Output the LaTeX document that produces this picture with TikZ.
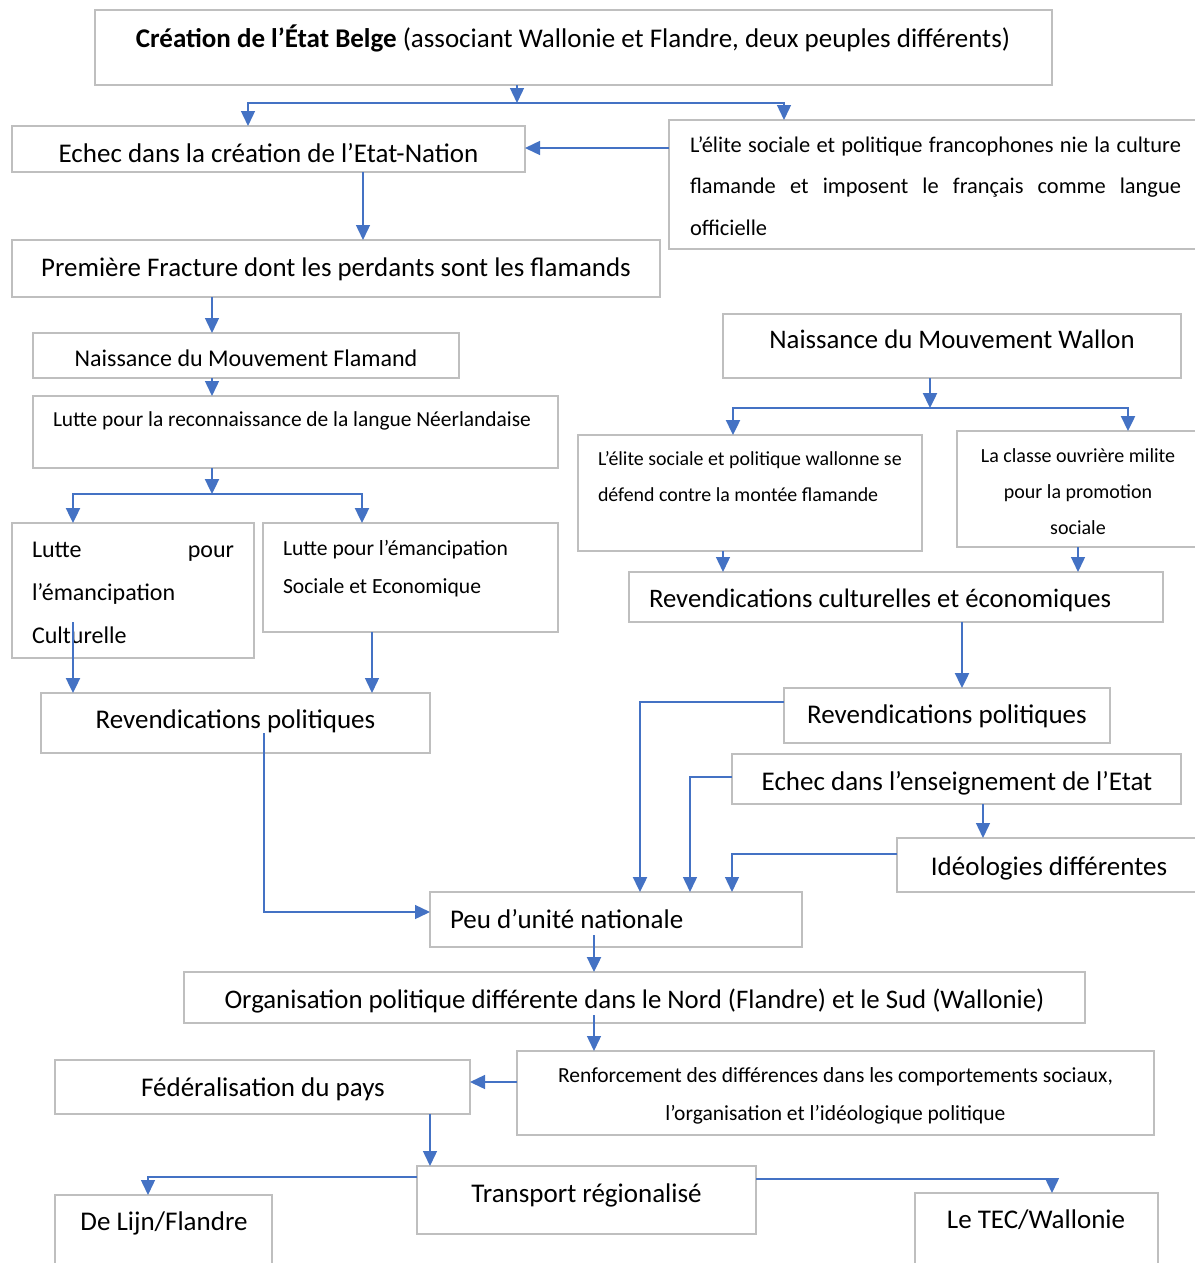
\documentclass[tikz,border=0pt]{standalone}
\usepackage{fontspec}
\setmainfont{Carlito}
\usetikzlibrary{arrows.meta}
\definecolor{bl}{HTML}{4472C4}
\definecolor{gr}{HTML}{BFBFBF}
\tikzset{
 box/.style={draw=gr, line width=1.2pt, inner sep=0pt, outer sep=0pt, anchor=north west},
 txt/.style={inner sep=0pt, outer sep=0pt, anchor=base},
 txtw/.style={txt, anchor=base west},
 arr/.style={draw=bl, line width=1.4pt, -{Triangle[length=15pt,width=14pt]}},
 arrB/.style={arr, line width=2.4pt},
}
\newcommand\fs[2]{\fontsize{#1}{#2}\selectfont}
\begin{document}
\begin{tikzpicture}[x=1pt,y=-1pt]
\useasboundingbox (0,0) rectangle (1194,1263);
\fill[white] (0,0) rectangle (1194,1263);
% boxes
\node[box, minimum width=957pt, minimum height=75pt] (top) at (95,10) {};
\node[box, minimum width=513pt, minimum height=46pt] (echec) at (12,126) {};
\node[box, minimum width=531pt, minimum height=129pt] (elite) at (669,120) {};
\node[box, minimum width=648pt, minimum height=57pt] (premiere) at (12,240) {};
\node[box, minimum width=426pt, minimum height=45pt] (naissF) at (33,333) {};
\node[box, minimum width=525pt, minimum height=72pt] (lutteLang) at (33,396) {};
\node[box, minimum width=242pt, minimum height=135pt] (lutteCult) at (12,523) {};
\node[box, minimum width=295pt, minimum height=109pt] (lutteSoc) at (263,523) {};
\node[box, minimum width=389pt, minimum height=60pt] (revPolF) at (41,693) {};
\node[box, minimum width=458pt, minimum height=64pt] (naissW) at (723,314) {};
\node[box, minimum width=344pt, minimum height=116pt] (eliteW) at (578,435) {};
\node[box, minimum width=243pt, minimum height=116pt] (classe) at (957,431) {};
\node[box, minimum width=534pt, minimum height=50pt] (revCult) at (629,572) {};
\node[box, minimum width=326pt, minimum height=55pt] (revPolW) at (784,688) {};
\node[box, minimum width=449pt, minimum height=50pt] (echecEns) at (732,754) {};
\node[box, minimum width=303pt, minimum height=54pt] (ideo) at (897,838) {};
\node[box, minimum width=372pt, minimum height=55pt] (peu) at (430,892) {};
\node[box, minimum width=901pt, minimum height=51pt] (org) at (184,972) {};
\node[box, minimum width=637pt, minimum height=84pt] (renf) at (517,1051) {};
\node[box, minimum width=415pt, minimum height=54pt] (fed) at (55,1060) {};
\node[box, minimum width=339pt, minimum height=68pt] (transport) at (417,1166) {};
\node[box, minimum width=217pt, minimum height=80pt] (deLijn) at (55,1195) {};
\node[box, minimum width=243pt, minimum height=80pt] (tec) at (915,1193) {};
% texts
\node[txt] (topT) at (573,48) {\fs{27}{32}\textbf{Création de l’État Belge} (associant Wallonie et Flandre, deux peuples différents)};
\node[txt] (echecT) at (268.5,162) {\fs{27}{32}Echec dans la création de l’Etat-Nation};
\node[txtw] (eliteT) at (690,152) {\parbox[t]{491pt}{\fs{22.4}{41.5}\makebox[491pt][s]{L’élite sociale et politique francophones nie la culture}\\ \makebox[491pt][s]{flamande et imposent le français comme langue}\\ officielle}};
\node[txt] (premiereT) at (336,276) {\fs{26.9}{32}Première Fracture dont les perdants sont les flamands};
\node[txt] (naissFT) at (246,366) {\fs{24}{28}Naissance du Mouvement Flamand};
\node[txtw] (lutteLangT) at (53,426) {\fs{21.4}{25}Lutte pour la reconnaissance de la langue Néerlandaise};
\node[txtw] (lutteCultT) at (32,557) {\parbox[t]{202pt}{\fs{24}{43.3}\makebox[202pt][s]{Lutte pour}\\ l’émancipation\\ Culturelle}};
\node[txtw] (lutteSocT) at (283,555) {\parbox[t]{260pt}{\fs{21.6}{38.5}Lutte pour l’émancipation\\ Sociale et Economique}};
\node[txt] (revPolFT) at (235.5,728) {\fs{27}{32}Revendications politiques};
\node[txt] (naissWT) at (952,348) {\fs{26.8}{32}Naissance du Mouvement Wallon};
\node[txtw] (eliteWT) at (598,465) {\parbox[t]{320pt}{\fs{19.9}{36.7}L’élite sociale et politique wallonne se\\ défend contre la montée flamande}};
\node[txt] (classeT) at (1078,462) {\parbox[t]{230pt}{\centering\fs{20}{36}La classe ouvrière milite\\ pour la promotion\\ sociale}};
\node[txtw] (revCultT) at (649,607) {\fs{26.7}{32}Revendications culturelles et économiques};
\node[txt] (revPolWT) at (947,723) {\fs{27}{32}Revendications politiques};
\node[txt] (echecEnsT) at (957,790) {\fs{27}{32}Echec dans l’enseignement de l’Etat};
\node[txt] (ideoT) at (1049,875) {\fs{27}{32}Idéologies différentes};
\node[txtw] (peuT) at (450,928) {\fs{27}{32}Peu d’unité nationale};
\node[txt] (orgT) at (634.5,1008) {\fs{26.8}{32}Organisation politique différente dans le Nord (Flandre) et le Sud (Wallonie)};
\node[txt] (renfT) at (835.5,1082) {\parbox[t]{620pt}{\centering\fs{21.5}{38.3}Renforcement des différences dans les comportements sociaux,\\ l’organisation et l’idéologique politique}};
\node[txt] (fedT) at (263,1096) {\fs{27}{32}Fédéralisation du pays};
\node[txt] (transportT) at (586.5,1202) {\fs{27}{32}Transport régionalisé};
\node[txt] (deLijnT) at (164,1230) {\fs{27}{32}De Lijn/Flandre};
\node[txt] (tecT) at (1036,1228) {\fs{27}{32}Le TEC/Wallonie};
% helper coordinates
\coordinate (j1) at (517,103); \coordinate (j1l) at (248,103); \coordinate (j1r) at (784,103);
\coordinate (y148) at (0,148);
\coordinate (x363) at (363,0);
\coordinate (x212) at (212,0);
\coordinate (j2) at (212,494); \coordinate (j2l) at (73,494); \coordinate (j2r) at (362,494);
\coordinate (c7) at (73,622);
\coordinate (x372) at (372,0);
\coordinate (c9) at (264,733); \coordinate (y912) at (0,912);
\coordinate (j3) at (930,408); \coordinate (j3l) at (733,408); \coordinate (j3r) at (1128,408);
\coordinate (x723) at (723,0); \coordinate (x1078) at (1078,0);
\coordinate (x962) at (962,0);
\coordinate (y702) at (0,702); \coordinate (x640) at (640,0);
\coordinate (y777) at (0,777); \coordinate (x690) at (690,0);
\coordinate (x983) at (983,0);
\coordinate (y854) at (0,854); \coordinate (x732) at (732,0);
\coordinate (c17) at (594,935);
\coordinate (c18) at (594,1015);
\coordinate (y1082) at (0,1082);
\coordinate (x430) at (430,0);
\coordinate (y1177) at (0,1177); \coordinate (x148) at (148,0);
\coordinate (y1179) at (0,1179); \coordinate (x1052) at (1052,0);
% connectors
\draw[arr] (top.south -| j1) -- (j1);
\draw[arr] (j1) -- (j1l) -- (echec.north -| j1l);
\draw[arr] (j1) -- (j1r) -- (elite.north -| j1r);
\draw[arr] (elite.west |- y148) -- (echec.east |- y148);
\draw[arr] (echec.south -| x363) -- (premiere.north -| x363);
\draw[arr] (premiere.south -| x212) -- (naissF.north -| x212);
\draw[arr] (naissF.south -| x212) -- (lutteLang.north -| x212);
\draw[arrB] (lutteLang.south -| j2) -- (j2);
\draw[arrB] (j2) -- (j2l) -- (lutteCult.north -| j2l);
\draw[arrB] (j2) -- (j2r) -- (lutteSoc.north -| j2r);
\draw[arrB] (c7) -- (revPolF.north -| c7);
\draw[arr] (lutteSoc.south -| x372) -- (revPolF.north -| x372);
\draw[arr] (c9) |- (peu.west |- y912);
\draw[arrB] (naissW.south -| j3) -- (j3);
\draw[arrB] (j3) -- (j3l) -- (eliteW.north -| j3l);
\draw[arrB] (j3) -- (j3r) -- (classe.north -| j3r);
\draw[arr] (eliteW.south -| x723) -- (revCult.north -| x723);
\draw[arr] (classe.south -| x1078) -- (revCult.north -| x1078);
\draw[arrB] (revCult.south -| x962) -- (revPolW.north -| x962);
\draw[arrB] (revPolW.west |- y702) -| (peu.north -| x640);
\draw[arr] (echecEns.west |- y777) -| (peu.north -| x690);
\draw[arr] (echecEns.south -| x983) -- (ideo.north -| x983);
\draw[arr] (ideo.west |- y854) -| (peu.north -| x732);
\draw[arrB] (c17) -- (org.north -| c17);
\draw[arr] (c18) -- (renf.north -| c18);
\draw[arr] (renf.west |- y1082) -- (fed.east |- y1082);
\draw[arr] (fed.south -| x430) -- (transport.north -| x430);
\draw[arr] (transport.west |- y1177) -| (deLijn.north -| x148);
\draw[arr] (transport.east |- y1179) -| (tec.north -| x1052);
\end{tikzpicture}
\end{document}
